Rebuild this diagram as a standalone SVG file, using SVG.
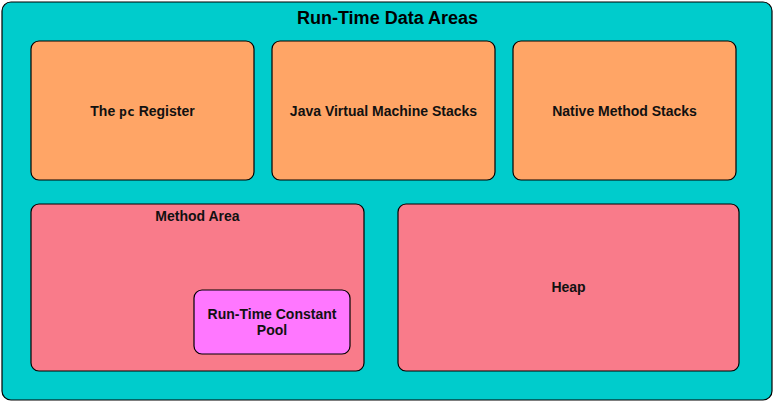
<svg xmlns="http://www.w3.org/2000/svg" width="775" height="404" viewBox="0 0 775 404">
<style>
.box{stroke:#000;stroke-width:1.2}
.orange{fill:#FFA566}
.pink{fill:#F97B8A}
.mag{fill:#FF77FF}
.lbl{font-family:"Liberation Sans",Arial,sans-serif;font-weight:bold;font-size:14px;fill:#111;text-anchor:middle}
.title{font-family:"Liberation Sans",Arial,sans-serif;font-weight:bold;font-size:18px;fill:#000;text-anchor:middle}
</style>
<rect width="775" height="404" fill="#fff"/>
<g id="run-time-data-areas">
<rect class="box" x="2" y="2" width="770" height="398" rx="9" fill="#00CCCC"/>
<text class="title" x="387.5" y="24">Run-Time Data Areas</text>
</g>
<g id="pc-register">
<rect class="box orange" x="31" y="41" width="223" height="139" rx="8"/>
<text class="lbl" x="142.5" y="116">The <tspan font-family="'DejaVu Sans Mono',monospace" font-size="13">pc</tspan> Register</text>
</g>
<g id="jvm-stacks">
<rect class="box orange" x="272" y="41" width="223" height="139" rx="8"/>
<text class="lbl" x="383.5" y="116">Java Virtual Machine Stacks</text>
</g>
<g id="native-method-stacks">
<rect class="box orange" x="513" y="41" width="223" height="139" rx="8"/>
<text class="lbl" x="624.5" y="116">Native Method Stacks</text>
</g>
<g id="method-area">
<rect class="box pink" x="31" y="204" width="333" height="167" rx="8"/>
<text class="lbl" x="197.5" y="221">Method Area</text>
</g>
<g id="run-time-constant-pool">
<rect class="box mag" x="194" y="290" width="156" height="64" rx="8"/>
<text class="lbl" x="272" y="319">Run-Time Constant</text>
<text class="lbl" x="272" y="335">Pool</text>
</g>
<g id="heap">
<rect class="box pink" x="398" y="204" width="341" height="167" rx="8"/>
<text class="lbl" x="568.5" y="292">Heap</text>
</g>
<g id="connectors"></g>
</svg>
